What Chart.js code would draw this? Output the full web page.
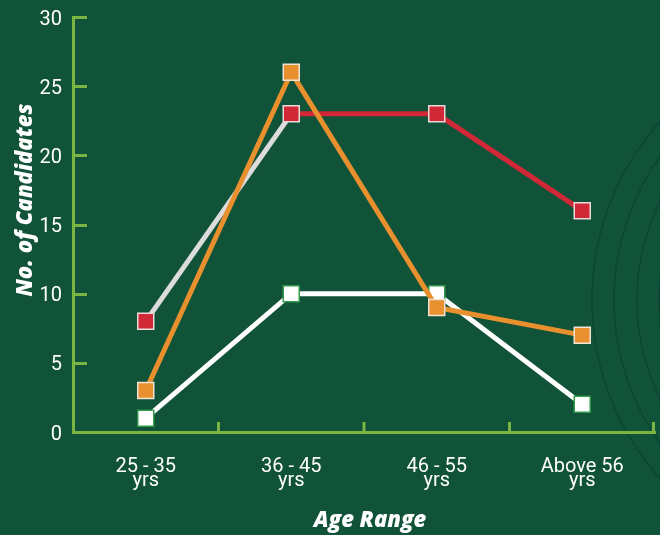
<!DOCTYPE html>
<html>
<head>
<meta charset="utf-8">
<script src="https://cdn.jsdelivr.net/npm/chart.js@4/dist/chart.umd.min.js"></script>
<style>
  html, body { margin: 0; padding: 0; background: #115338; }
  #wrap { width: 660px; height: 535px; }
</style>
</head>
<body>
<div id="wrap"><canvas id="chart" width="660" height="535"></canvas></div>
<script>
// Age bands on the x axis (two-line labels)
const categories = [
  ['25 - 35', 'yrs'],
  ['36 - 45', 'yrs'],
  ['46 - 55', 'yrs'],
  ['Above 56', 'yrs']
];

// Number of candidates per age band
const seriesRed = [8, 23, 23, 16];
const seriesOrange = [3, 26, 9, 7];
const seriesWhite = [1, 10, 10, 2];

// Value axis
const yMin = 0;
const yMax = 30;
const yStep = 5;

const xTitle = 'Age Range';
const yTitle = 'No. of Candidates';

const BG = '#115338';
const AXIS = '#7ab544';
const TEXT = '#ffffff';

// Page background plus the faint concentric rings on the right
const backdrop = {
  id: 'backdrop',
  beforeDraw(chart) {
    const ctx = chart.ctx;
    ctx.save();
    ctx.fillStyle = BG;
    ctx.fillRect(0, 0, chart.width, chart.height);
    ctx.strokeStyle = '#0c4730';
    ctx.lineWidth = 1.6;
    [268, 246, 223, 201].forEach(r => {
      ctx.beginPath();
      ctx.arc(860, 300, r, 0, Math.PI * 2);
      ctx.stroke();
    });
    ctx.restore();
  }
};

// Inward tick marks on both axes and the two axis titles
const axisDecor = {
  id: 'axisDecor',
  afterDraw(chart) {
    const ctx = chart.ctx;
    const area = chart.chartArea;
    const x = chart.scales.x;
    const y = chart.scales.y;
    ctx.save();
    ctx.strokeStyle = AXIS;
    ctx.lineWidth = 3;
    ctx.lineCap = 'butt';
    // y ticks point right into the plot
    y.ticks.forEach((t, i) => {
      if (t.value === yMin) return;
      const py = Math.round(y.getPixelForTick(i)) + 0.5;
      ctx.beginPath();
      ctx.moveTo(area.left, py);
      ctx.lineTo(area.left + 14, py);
      ctx.stroke();
    });
    // x ticks sit on the boundaries between bands and point up
    const n = x.ticks.length;
    for (let i = 0; i < n; i++) {
      const px = i < n - 1
        ? (x.getPixelForTick(i) + x.getPixelForTick(i + 1)) / 2
        : area.right - 1.5;
      ctx.beginPath();
      ctx.moveTo(px, area.bottom);
      ctx.lineTo(px, area.bottom - 10);
      ctx.stroke();
    }
    // axis titles
    ctx.fillStyle = TEXT;
    ctx.font = 'italic 800 22px "Open Sans"';
    ctx.textAlign = 'center';
    ctx.textBaseline = 'alphabetic';
    ctx.fillText(xTitle, 370, 527);
    ctx.translate(32, 200);
    ctx.rotate(-Math.PI / 2);
    ctx.fillText(yTitle, 0, 0);
    ctx.restore();
  }
};

const markerRadius = 11.3;

new Chart(document.getElementById('chart'), {
  type: 'line',
  data: {
    labels: categories,
    datasets: [
      {
        label: 'Orange',
        data: seriesOrange,
        borderColor: '#e8902e',
        backgroundColor: '#e8902e',
        pointBackgroundColor: '#e8902e',
        pointBorderColor: '#efe3d6',
        pointBorderWidth: 1.5,
        pointStyle: 'rect',
        pointRadius: markerRadius,
        borderWidth: 5,
        tension: 0
      },
      {
        label: 'Red',
        data: seriesRed,
        borderColor: '#d02836',
        backgroundColor: '#d02836',
        pointBackgroundColor: '#d02836',
        pointBorderColor: '#eadada',
        pointBorderWidth: 1.5,
        pointStyle: 'rect',
        pointRadius: markerRadius,
        borderWidth: 5,
        tension: 0,
        segment: {
          borderColor: c => (c.p0DataIndex === 0 ? '#dcdcdc' : undefined)
        }
      },
      {
        label: 'White',
        data: seriesWhite,
        borderColor: '#ffffff',
        backgroundColor: '#ffffff',
        pointBackgroundColor: '#ffffff',
        pointBorderColor: '#2f9a4a',
        pointBorderWidth: 1.5,
        pointStyle: 'rect',
        pointRadius: markerRadius,
        borderWidth: 5,
        tension: 0
      }
    ]
  },
  options: {
    responsive: false,
    animation: false,
    devicePixelRatio: 1,
    layout: { autoPadding: false, padding: { left: 0, right: 5, top: 17, bottom: 0 } },
    plugins: {
      legend: { display: false },
      tooltip: { enabled: false }
    },
    scales: {
      x: {
        offset: true,
        afterFit: s => {
          s.height = 103;
          s.paddingLeft = 0;
          s.paddingRight = 0;
        },
        grid: { display: true, drawOnChartArea: false, drawTicks: false, offset: true },
        border: { display: true, color: AXIS, width: 3 },
        ticks: {
          color: TEXT,
          padding: 28,
          maxRotation: 0,
          autoSkip: false,
          font: { family: 'Roboto', size: 20, lineHeight: 0.7 }
        },
        title: { display: false, text: xTitle }
      },
      y: {
        min: yMin,
        max: yMax,
        afterFit: s => {
          s.width = 73;
          s.paddingTop = 0;
          s.paddingBottom = 0;
        },
        grid: { display: true, drawOnChartArea: false, drawTicks: false },
        border: { display: true, color: AXIS, width: 3 },
        ticks: {
          stepSize: yStep,
          color: TEXT,
          padding: 11,
          labelOffset: 2.5,
          font: { family: 'Roboto', size: 20 }
        },
        title: { display: false, text: yTitle }
      }
    }
  },
  plugins: [backdrop, axisDecor]
});
</script>
</body>
</html>
